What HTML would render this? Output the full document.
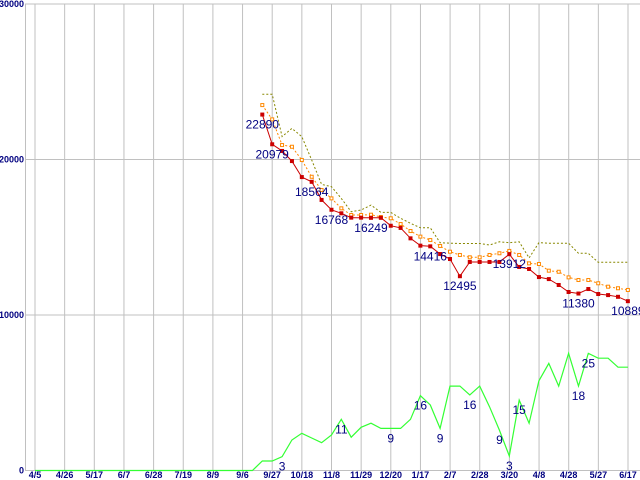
<!DOCTYPE html>
<html><head><meta charset="utf-8"><style>
html,body{margin:0;padding:0;background:#fff;}
svg{display:block;}
</style></head><body>
<svg id="chart" width="640" height="480" xmlns="http://www.w3.org/2000/svg" font-family="Liberation Sans, sans-serif">
<g id="grid"></g>
<g id="axes"></g>
<g id="series"></g>
<g id="labels"></g>
</svg>
<script>
const xTickLabels = ["4/5","4/26","5/17","6/7","6/28","7/19","8/9","9/6","9/27","10/18","11/8","11/29","12/20","1/17","2/7","2/28","3/20","4/8","4/28","5/27","6/17"];
const yTicks = [0,10000,20000,30000];
const redValues = [22890,20979,20550,19900,18870,18564,17400,16768,16540,16260,16260,16249,16250,15740,15600,14930,14460,14416,13920,13600,12495,13410,13410,13410,13410,13912,13090,12960,12440,12310,11930,11480,11380,11670,11350,11280,11170,10889];
const orangeValues = [23500,22580,20930,20820,19970,18890,18040,17500,16860,16430,16430,16450,16300,16220,15850,15400,15040,14820,14440,14070,13860,13710,13710,13860,13970,14120,13860,13320,13280,12850,12780,12420,12250,12250,12040,11820,11720,11610];
const oliveValues = [24190,24190,21470,22000,21470,19970,18400,18250,17500,16640,16750,17070,16600,16600,16220,15900,15610,15610,14650,14620,14600,14600,14600,14500,14710,14650,14710,13670,14650,14620,14620,14620,13970,13970,13390,13390,13390,13390];
const greenValues = [610,610,890,1960,2390,2090,1790,2280,3290,2140,2780,3040,2710,2710,2710,3290,4810,4210,2710,5430,5430,4860,5430,4100,2600,930,4530,3040,5770,6890,5430,7540,5430,7540,7220,7220,6640,6640];
const redLabelIdx = [0,1,5,7,11,17,20,25,32,37];
const greenLabelIdx = [2,8,13,16,18,21,24,25,26,32,33];
const greenLabelText = ["3","11","9","16","9","16","9","3","15","18","25"];

const NS="http://www.w3.org/2000/svg";
const x0=35, xStep=29.65, weekPx=9.88, firstIdxX=262.3;
const yZero=470.5, yPer=0.01555;
const X=i=>firstIdxX+i*weekPx;
const Y=v=>yZero-v*yPer;
function mk(tag,attrs,parent){const e=document.createElementNS(NS,tag);for(const k in attrs)e.setAttribute(k,attrs[k]);parent.appendChild(e);return e;}
const grid=document.getElementById('grid'),axes=document.getElementById('axes'),ser=document.getElementById('series'),lab=document.getElementById('labels');

xTickLabels.forEach((t,i)=>{
  const x=x0+i*xStep;
  const l=mk('line',{x1:x,x2:x,y1:4,y2:470,stroke:'#c0c0c0','stroke-width':1},grid);
  
  
  const tx=mk('text',{x:x,y:478,'text-anchor':'middle','font-size':9,'font-weight':'bold',fill:'#000080'},axes);
  tx.textContent=t;
  
  
});
yTicks.forEach(v=>{
  const y=Y(v);
  const l=mk('line',{x1:25,x2:640,y1:y,y2:y,stroke:'#c0c0c0','stroke-width':1},grid);
  
  
  const tx=mk('text',{x:24,y:y+3,'text-anchor':'end','font-size':9,'font-weight':'bold',fill:'#000080'},axes);
  tx.textContent=String(v);
  
  
});
const ax=mk('line',{x1:25.5,x2:25.5,y1:4,y2:471,stroke:'#c0c0c0'},axes);



function pts(arr){return arr.map((v,i)=>X(i).toFixed(1)+','+Y(v).toFixed(1)).join(' ');}
let gp=[x0+','+Y(0)];
gp.push(X(-1)+','+Y(0));
gp=gp.concat(greenValues.map((v,i)=>X(i).toFixed(1)+','+Y(v).toFixed(1)));
const g=mk('polyline',{points:gp.join(' '),fill:'none',stroke:'#33ff33','stroke-width':1.2},ser);



const o=mk('polyline',{points:pts(oliveValues),fill:'none',stroke:'#888800','stroke-width':1,'stroke-dasharray':'2,2'},ser);


const or=mk('polyline',{points:pts(orangeValues),fill:'none',stroke:'#ff8800','stroke-width':1,'stroke-dasharray':'2,2'},ser);


orangeValues.forEach((v,i)=>{
  const r=mk('rect',{x:X(i)-1.5,y:Y(v)-1.5,width:3,height:3,fill:'#fff',stroke:'#ff8800','stroke-width':1},ser);
  
  
});
const rl=mk('polyline',{points:pts(redValues),fill:'none',stroke:'#cc0000','stroke-width':1},ser);


redValues.forEach((v,i)=>{
  const r=mk('rect',{x:X(i)-2,y:Y(v)-2,width:4,height:4,fill:'#cc0000'},ser);
  
  
});
redLabelIdx.forEach(i=>{
  const t=mk('text',{x:X(i),y:Y(redValues[i])+14,'text-anchor':'middle','font-size':12,fill:'#000080'},lab);
  t.textContent=String(redValues[i]);
  
  
});
greenLabelIdx.forEach((i,k)=>{
  const t=mk('text',{x:X(i),y:Y(greenValues[i])+14,'text-anchor':'middle','font-size':12,fill:'#000080'},lab);
  t.textContent=greenLabelText[k];
  
  
});
</script>
</body></html>
